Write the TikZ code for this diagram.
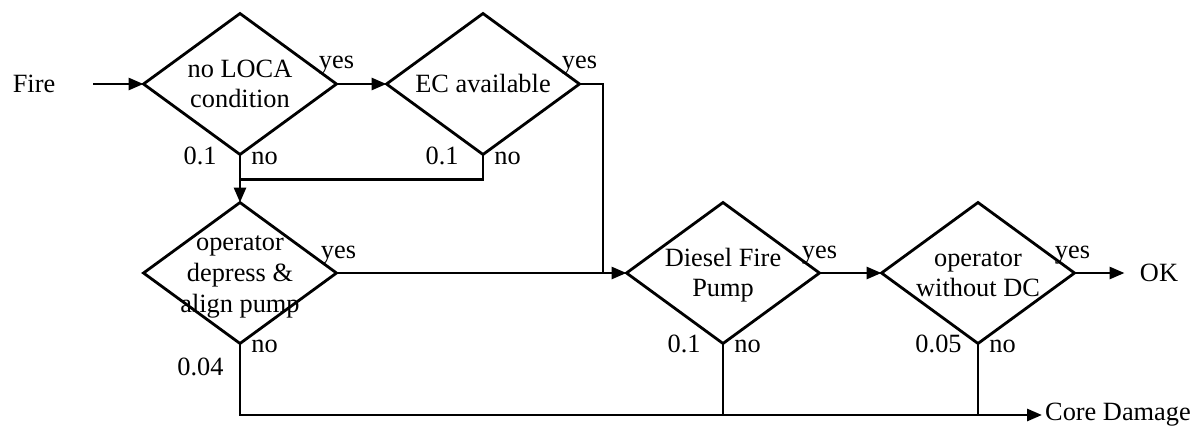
\documentclass[tikz,border=0pt]{standalone}
\usepackage{fontspec}
\setmainfont{Liberation Serif}
\usetikzlibrary{shapes.geometric,arrows.meta,calc}

\newcommand{\dtext}[1]{\smash{\makebox[0pt]{\raisebox{-5pt}{\begin{tabular}{@{}c@{}}#1\end{tabular}}}}}

\begin{document}
\begin{tikzpicture}[x=0.02cm, y=-0.02cm,
    font=\fontsize{15}{17.5}\selectfont,
    line width=1.6pt,
    dec/.style={diamond, draw, minimum width=3.86cm, minimum height=2.82cm, inner sep=0pt, outer sep=0pt},
    arr/.style={-{Triangle[length=0.3cm,width=0.24cm]}},
    lbl/.style={inner sep=0pt}]
    \useasboundingbox (0,0) rectangle (1196,426);

    % Decisions
    \node[dec] (loca) at (240,84) {\dtext{no LOCA\\condition}};
    \node[dec] (ec) at (483,84) {\dtext{EC available}};
    \node[dec] (opd) at (240,273) {\dtext{operator\\depress \&\\align pump}};
    \node[dec] (dfp) at (723,273) {\dtext{Diesel Fire\\Pump}};
    \node[dec] (owd) at (978,273) {\dtext{operator\\without DC}};

    % Start and end states
    \node (fire) at (34,84) {Fire};
    \coordinate (fireout) at (93,84);
    \node[inner xsep=8pt] (ok) at (1159,273) {OK};
    \node[anchor=west, inner xsep=1pt] (core) at (1042,415) {Core Damage};

    % Branch labels
    \node[lbl, anchor=base] (locayes) at ($(loca.east)+(0,-16)$) {yes};
    \node[lbl, anchor=base west] (locano) at ($(loca.south)+(10,10)$) {no};
    \node[lbl, anchor=base east] (locap) at ($(loca.south)+(-22,10)$) {0.1};
    \node[lbl, anchor=base] (ecyes) at ($(ec.east)+(0,-16)$) {yes};
    \node[lbl, anchor=base west] (ecno) at ($(ec.south)+(10,10)$) {no};
    \node[lbl, anchor=base east] (ecp) at ($(ec.south)+(-23,10)$) {0.1};
    \node[lbl, anchor=base] (opdyes) at ($(opd.east)+(2,-15)$) {yes};
    \node[lbl, anchor=base west] (opdno) at ($(opd.south)+(10,9)$) {no};
    \node[lbl, anchor=base east] (opdp) at ($(opd.south)+(-15,32)$) {0.04};
    \node[lbl, anchor=base] (dfpyes) at ($(dfp.east)+(0,-15)$) {yes};
    \node[lbl, anchor=base west] (dfpno) at ($(dfp.south)+(10,9)$) {no};
    \node[lbl, anchor=base east] (dfpp) at ($(dfp.south)+(-21,9)$) {0.1};
    \node[lbl, anchor=base] (owdyes) at ($(owd.east)+(-2,-15)$) {yes};
    \node[lbl, anchor=base west] (owdno) at ($(owd.south)+(10,9)$) {no};
    \node[lbl, anchor=base east] (owdp) at ($(owd.south)+(-15,9)$) {0.05};

    % Joins
    \coordinate (nojoin) at ($(loca.south)+(0,25)$);
    \coordinate (ecjoin) at (603,273);

    % Connectors
    \draw[arr] (fireout) -- (loca.west);
    \draw[arr] (loca.east) -- (ec.west);
    \draw[arr] (loca.south) -- (opd.north);
    \draw (ec.south) |- (nojoin);
    \draw (ec.east) -| (ecjoin);
    \draw[arr] (opd.east) -- (dfp.west);
    \draw[arr] (dfp.east) -- (owd.west);
    \draw[arr] (owd.east) -- (ok.west);
    \draw[arr] (opd.south) |- (core.west);
    \draw (dfp.south) -- (dfp.south |- core.west);
    \draw (owd.south) -- (owd.south |- core.west);

\end{tikzpicture}
\end{document}
